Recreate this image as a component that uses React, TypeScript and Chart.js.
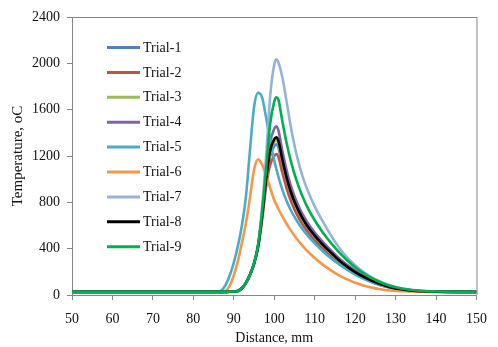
import React, { useEffect, useRef } from 'react';
import { Chart, registerables } from 'chart.js';

Chart.register(...registerables);

// Distance along the specimen, mm
const distance = [50, 60, 70, 80, 84, 85, 86, 87, 88, 89, 90, 91, 92, 93, 94, 95, 96, 97, 98, 99, 100, 100.5, 101, 102, 103, 104, 105, 106, 107, 108, 110, 112, 114, 116, 118, 120, 122, 124, 126, 128, 130, 133, 136, 140, 145, 150];

// Temperature, oC for each trial (same length as distance)
const trial1 = [27, 27, 27, 27, 27, 27, 27, 27, 27, 28, 30, 35, 58, 105, 175, 270, 415, 670, 980, 1200, 1285, 1302, 1278, 1120, 980, 866, 776, 702, 640, 585, 495, 420, 354, 291, 238, 192, 153, 120, 93, 72, 56, 41, 33, 28, 27, 27];
const trial2 = [27, 27, 27, 27, 27, 27, 27, 27, 27, 28, 30, 35, 58, 105, 175, 270, 410, 650, 940, 1125, 1200, 1217, 1195, 1055, 928, 822, 738, 668, 608, 556, 470, 398, 335, 276, 226, 182, 145, 114, 89, 69, 54, 40, 32, 28, 27, 27];
const trial3 = [27, 27, 27, 27, 27, 27, 27, 27, 27, 28, 30, 35, 58, 105, 175, 270, 420, 675, 990, 1225, 1320, 1337, 1310, 1150, 1005, 888, 795, 718, 653, 597, 505, 428, 361, 296, 242, 196, 156, 122, 95, 73, 57, 42, 33, 28, 27, 27];
const trial4 = [27, 27, 27, 27, 27, 27, 27, 27, 27, 28, 30, 35, 58, 105, 175, 270, 425, 700, 1050, 1320, 1435, 1457, 1425, 1245, 1085, 955, 852, 768, 698, 638, 540, 458, 386, 318, 260, 212, 170, 133, 103, 79, 61, 45, 35, 29, 27, 27];
const trial5 = [27, 27, 27, 27, 27, 28, 30, 40, 90, 170, 280, 420, 600, 850, 1250, 1620, 1745, 1705, 1530, 1330, 1160, 1090, 1025, 910, 815, 738, 674, 618, 568, 523, 445, 378, 318, 265, 218, 177, 142, 113, 89, 70, 56, 42, 33, 28, 27, 27];
const trial6 = [27, 27, 27, 27, 27, 27, 27, 28, 35, 80, 170, 290, 450, 620, 840, 1080, 1172, 1125, 1030, 925, 820, 782, 745, 678, 617, 562, 512, 466, 424, 386, 320, 262, 212, 170, 135, 106, 83, 65, 51, 41, 35, 30, 28, 27, 27, 27];
const trial7 = [27, 27, 27, 27, 27, 27, 27, 27, 27, 28, 30, 35, 58, 105, 175, 270, 440, 760, 1200, 1720, 1990, 2035, 2010, 1880, 1680, 1470, 1290, 1145, 1025, 925, 765, 635, 515, 410, 325, 258, 200, 155, 119, 91, 70, 50, 38, 30, 27, 27];
const trial8 = [27, 27, 27, 27, 27, 27, 27, 27, 27, 28, 30, 35, 58, 105, 175, 270, 420, 680, 1000, 1250, 1345, 1362, 1335, 1170, 1020, 900, 805, 728, 662, 605, 512, 434, 366, 300, 245, 198, 158, 124, 96, 74, 57, 42, 33, 28, 27, 27];
const trial9 = [27, 27, 27, 27, 27, 27, 27, 27, 27, 28, 30, 35, 58, 105, 175, 270, 430, 720, 1100, 1480, 1670, 1707, 1690, 1500, 1320, 1170, 1045, 940, 850, 772, 645, 540, 450, 370, 300, 240, 190, 148, 114, 87, 67, 48, 37, 30, 27, 27];

const trialLabels = ['Trial-1', 'Trial-2', 'Trial-3', 'Trial-4', 'Trial-5', 'Trial-6', 'Trial-7', 'Trial-8', 'Trial-9'];
const trialColors = ['#4F81BD', '#C0504D', '#9BBB59', '#8064A2', '#4BACC6', '#F79646', '#95B3D7', '#000000', '#00B050'];

const FONT = "'Liberation Serif', 'Times New Roman', serif";
const AXIS_COLOR = '#868686';

export default function App() {
  const ref = useRef<HTMLCanvasElement>(null);

  useEffect(() => {
    const series = [trial1, trial2, trial3, trial4, trial5, trial6, trial7, trial8, trial9];

    const framePlugin = {
      id: 'frame',
      afterDraw(chart: any) {
        const { ctx, chartArea } = chart;
        ctx.save();
        ctx.strokeStyle = AXIS_COLOR;
        ctx.lineWidth = 1;
        ctx.beginPath();
        ctx.moveTo(chartArea.left, chartArea.top + 0.5);
        ctx.lineTo(chartArea.right + 0.5, chartArea.top + 0.5);
        ctx.lineTo(chartArea.right + 0.5, chartArea.bottom);
        ctx.stroke();
        ctx.restore();
      },
    };

    const legendPlugin = {
      id: 'insideLegend',
      afterDatasetsDraw(chart: any) {
        const { ctx, chartArea } = chart;
        ctx.save();
        const x0 = chartArea.left + 35;
        const x1 = x0 + 33;
        chart.data.datasets.forEach((ds: any, i: number) => {
          const y = chartArea.top + 30.5 + i * 24.9;
          ctx.strokeStyle = ds.borderColor;
          ctx.lineWidth = 3;
          ctx.beginPath();
          ctx.moveTo(x0, y);
          ctx.lineTo(x1, y);
          ctx.stroke();
          ctx.fillStyle = '#111';
          ctx.font = `14px ${FONT}`;
          ctx.textBaseline = 'middle';
          ctx.textAlign = 'left';
          ctx.fillText(ds.label, x1 + 3, y + 0.5);
        });
        ctx.restore();
      },
    };

    const chart = new Chart(ref.current as HTMLCanvasElement, {
      type: 'line',
      data: {
        datasets: series.map((vals, i) => ({
          label: trialLabels[i],
          data: distance.map((d, j) => ({ x: d, y: vals[j] })),
          borderColor: trialColors[i],
          backgroundColor: trialColors[i],
          borderWidth: 2.6,
          pointRadius: 0,
          cubicInterpolationMode: 'monotone' as const,
          fill: false,
          order: 8 - i,
        })),
      },
      options: {
        animation: false,
        responsive: false,
        devicePixelRatio: 1,
        layout: { padding: { top: 17, right: 10, left: 0, bottom: 0 } },
        plugins: {
          legend: { display: false },
          tooltip: { enabled: false },
        },
        scales: {
          x: {
            type: 'linear',
            min: 50,
            max: 150,
            ticks: { stepSize: 10, color: '#111', font: { family: FONT, size: 14 }, padding: 11, maxRotation: 0, callback: (v: any) => String(v) },
            grid: { drawOnChartArea: false, drawTicks: true, tickLength: 5, color: AXIS_COLOR },
            border: { display: true, color: AXIS_COLOR, width: 1 },
            title: { display: true, text: 'Distance, mm', color: '#111', font: { family: FONT, size: 14 }, padding: { top: 0, bottom: 0 } },
            afterFit: (s: any) => { s.height = 52; },
          },
          y: {
            type: 'linear',
            min: 0,
            max: 2400,
            ticks: { stepSize: 400, color: '#111', font: { family: FONT, size: 14 }, padding: 7, callback: (v: any) => String(v) },
            grid: { drawOnChartArea: false, drawTicks: true, tickLength: 5, color: AXIS_COLOR },
            border: { display: true, color: AXIS_COLOR, width: 1 },
            title: { display: true, text: 'Temperature, oC', color: '#111', font: { family: FONT, size: 15 }, padding: { top: 9, bottom: 0 } },
            afterFit: (s: any) => { s.width = 72; },
          },
        },
      },
      plugins: [framePlugin, legendPlugin],
    });
    return () => chart.destroy();
  }, []);

  return (
    <div style={{ position: 'absolute', left: 0, top: 0, width: 498, height: 347 }}>
      <canvas ref={ref} width={498} height={347} style={{ display: 'block' }} />
    </div>
  );
}
